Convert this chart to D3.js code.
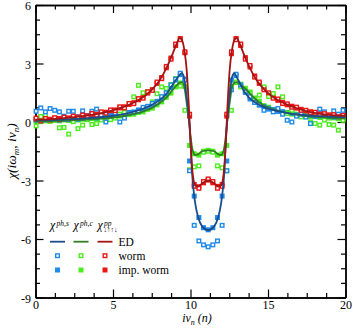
<!DOCTYPE html>
<html>
<head>
<meta charset="utf-8">
<script src="https://cdn.jsdelivr.net/npm/d3@7"></script>
<style>
body{margin:0;background:#fff}
text{font-family:"Liberation Serif","Times New Roman",serif}
</style>
</head>
<body>
<div id="chart"></div>
<script>
// frequency grid of the QMC points
var nGrid = [0.04,0.34,0.64,0.94,1.24,1.54,1.84,2.14,2.44,2.74,3.04,3.34,3.64,3.94,4.24,4.54,4.84,5.14,5.44,5.74,
  6.04,6.34,6.64,6.94,7.24,7.54,7.84,8.14,8.44,8.74,9.04,9.34,9.64,9.94,10.24,10.54,10.84,11.14,11.44,11.74,
  12.04,12.34,12.64,12.94,13.24,13.54,13.84,14.14,14.44,14.74,15.04,15.34,15.64,15.94,16.24,16.54,16.84,17.14,
  17.44,17.74,18.04,18.34,18.64,18.94,19.24,19.54,19.84];

// worm (open squares)
var wormBlue = [0.55,0.72,0.52,0.69,0.6,0.52,0.3,0.55,0.55,0.25,0.57,0.3,0.55,0.66,0.35,0.0,0.3,0.45,0.0,0.2,
  0.45,0.5,0.55,0.75,0.8,0.95,1.0,1.3,1.5,1.9,2.2,2.5,2.15,-2.5,-5.3,-6.1,-6.3,-6.4,-6.3,-6.1,
  -5.3,-2.5,1.65,2.45,1.9,1.55,1.3,1.0,0.9,0.6,0.7,0.52,0.69,0.4,0.09,0.0,0.3,0.4,
  0.25,-0.08,0.35,0.66,0.52,0.3,0.57,0.4,0.6];
var wormGreen = [-0.2,0.28,0.35,0.05,0.12,-0.3,-0.28,-0.62,0.02,-0.34,-0.16,0.14,-0.13,-0.08,0.1,0.22,0.12,0.2,0.4,0.5,
  0.95,1.29,1.88,1.5,1.55,1.03,1.45,1.8,1.72,1.92,2.23,1.84,0.6,-2.45,-2.3,-2.25,-1.55,-1.5,-1.55,-2.25,
  -2.35,-2.5,0.6,2.05,1.8,1.6,1.45,1.12,1.38,1.8,1.3,1.46,1.8,1.29,0.44,0.6,0.35,0.26,
  0.3,0.0,-0.08,-0.16,0.1,-0.13,-0.16,-0.42,0.09];
var wormRed = [0.2,0.05,0.18,0.1,0.22,0.12,0.25,0.17,0.3,0.22,0.36,0.28,0.44,0.35,0.52,0.45,0.62,0.58,0.78,0.72,
  0.95,0.94,1.2,1.22,1.55,1.62,2.05,2.22,2.85,3.22,4.0,4.22,3.6,0.4,-3.3,-3.4,-3.05,-2.92,-3.05,-3.4,
  -3.3,0.4,3.6,4.22,4.0,3.22,2.9,2.3,2.05,1.65,1.5,1.22,1.18,0.95,0.93,0.76,0.76,0.6,
  0.6,0.48,0.5,0.38,0.43,0.32,0.38,0.27,0.34];

// improved worm (filled squares)
var impBlue = [0.1,0.07,0.11,0.09,0.13,0.1,0.14,0.12,0.16,0.14,0.19,0.17,0.23,0.21,0.27,0.26,0.33,0.31,0.39,0.4,
  0.49,0.51,0.62,0.66,0.8,0.88,1.06,1.2,1.47,1.76,2.15,2.43,2.2,-2.0,-3.8,-4.9,-5.42,-5.53,-5.42,-4.9,
  -3.8,-2.0,2.15,2.38,1.88,1.52,1.18,1.05,0.86,0.79,0.66,0.63,0.54,0.53,0.45,0.45,0.38,0.38,
  0.33,0.34,0.29,0.31,0.27,0.29,0.25,0.27,0.24];
var impGreen = [0.05,0.02,0.06,0.04,0.08,0.06,0.1,0.08,0.12,0.1,0.14,0.12,0.17,0.16,0.21,0.2,0.26,0.24,0.31,0.31,
  0.38,0.4,0.49,0.52,0.65,0.71,0.88,1.03,1.27,1.48,1.8,2.0,1.82,-1.2,-1.63,-1.7,-1.5,-1.45,-1.5,-1.7,
  -1.63,-1.2,1.82,2.02,1.94,1.73,1.54,1.23,1.07,0.84,0.76,0.64,0.6,0.5,0.49,0.4,0.4,0.32,
  0.33,0.27,0.28,0.23,0.25,0.2,0.21,0.17,0.19];
var impRed = [0.14,0.12,0.16,0.14,0.17,0.18,0.21,0.21,0.25,0.27,0.31,0.33,0.39,0.4,0.47,0.5,0.58,0.62,0.72,0.78,
  0.9,0.99,1.14,1.27,1.48,1.66,1.98,2.28,2.78,3.28,3.92,4.28,3.55,0.3,-3.2,-3.32,-3.12,-2.98,-3.12,-3.3,
  -3.2,0.3,3.5,4.28,3.92,3.3,2.82,2.36,1.98,1.72,1.44,1.28,1.11,1.01,0.88,0.81,0.71,0.65,
  0.56,0.53,0.46,0.43,0.38,0.37,0.34,0.31,0.3];

// exact diagonalization curves
var edN = [0,1,2,3,4,5,5.5,6,6.5,7,7.5,8,8.5,8.8,9.1,9.3,9.45,9.6,9.75,9.9,10.0,10.1,10.2,10.3,10.5,10.75,11.14,
  11.53,11.78,11.98,12.08,12.18,12.28,12.38,12.53,12.68,12.83,12.98,13.18,13.48,13.78,14.28,14.78,15.28,15.78,
  16.28,16.78,17.28,18.28,19.28,20];
var edBlue = [0.08,0.1,0.13,0.17,0.23,0.32,0.38,0.46,0.57,0.7,0.88,1.12,1.5,1.85,2.2,2.42,2.5,2.2,1.3,0.2,-1.0,-2.6,-3.5,-4.15,-4.9,-5.35,-5.55,
  -5.35,-4.9,-4.15,-3.5,-2.6,-1.0,0.2,1.4,2.3,2.5,2.3,2.0,1.55,1.25,0.95,0.75,0.62,0.53,
  0.46,0.4,0.36,0.3,0.27,0.25];
var edGreen = [0.03,0.05,0.08,0.11,0.16,0.23,0.28,0.35,0.44,0.56,0.72,0.97,1.3,1.6,1.88,2.02,2.05,1.8,1.0,0.1,-0.7,-1.3,-1.6,-1.7,-1.65,-1.5,-1.45,
  -1.5,-1.65,-1.7,-1.6,-1.3,-0.7,0.1,1.0,1.8,2.02,2.05,1.95,1.75,1.5,1.1,0.82,0.66,0.55,
  0.46,0.38,0.32,0.25,0.2,0.18];
var edRed = [0.12,0.15,0.21,0.3,0.42,0.6,0.72,0.87,1.06,1.31,1.65,2.13,2.85,3.4,4.0,4.3,4.2,3.7,2.7,0.7,-1.0,-2.3,-3.0,-3.25,-3.3,-3.15,-3.0,
  -3.15,-3.3,-3.25,-3.0,-2.3,-1.0,0.7,2.7,3.7,4.2,4.3,4.0,3.4,2.85,2.13,1.65,1.31,1.06,
  0.88,0.73,0.6,0.43,0.34,0.31];

var xTicks = [0,5,10,15,20];
var yTicks = [-9,-6,-3,0,3,6];

var colBlue = '#1f8ae8', colGreen = '#4ced1c', colRed = '#ee1515';
var lineBlue = '#1b4d8c', lineGreen = '#2f7f22', lineRed = '#a31414';

var width = 353, height = 330;
var svg = d3.select('#chart').append('svg')
  .attr('width', width)
  .attr('height', height);

var x = d3.scaleLinear().domain([0,20]).range([35.5,345.5]);
var y = d3.scaleLinear().domain([-9,6]).range([297.5,5]);

var minorX = d3.range(0,20.01,1.25).filter(function(d){return xTicks.indexOf(d)<0});
var minorY = d3.range(-9,6.01,0.75).filter(function(d){return yTicks.indexOf(d)<0});

function axisStyle(g){
  g.attr('font-family', null).attr('font-size', null);
  g.selectAll('path.domain').attr('stroke','#000').attr('stroke-width',1.4);
  g.selectAll('line').attr('stroke','#000').attr('stroke-width',1.2);
  g.selectAll('text').attr('font-size',12).attr('fill','#000');
}

// bottom / top
svg.append('g').attr('transform','translate(0,297.5)')
  .call(d3.axisBottom(x).tickValues(xTicks).tickSizeInner(-8).tickSizeOuter(0).tickPadding(2.5))
  .call(axisStyle);
svg.append('g').attr('transform','translate(0,297.5)')
  .call(d3.axisBottom(x).tickValues(minorX).tickSizeInner(-4.5).tickSizeOuter(0).tickFormat(''))
  .call(axisStyle);
svg.append('g').attr('transform','translate(0,5)')
  .call(d3.axisTop(x).tickValues(xTicks).tickSizeInner(-8).tickSizeOuter(0).tickFormat(''))
  .call(axisStyle);
svg.append('g').attr('transform','translate(0,5)')
  .call(d3.axisTop(x).tickValues(minorX).tickSizeInner(-4.5).tickSizeOuter(0).tickFormat(''))
  .call(axisStyle);
// left / right
var yAxisG = svg.append('g').attr('transform','translate(35.5,0)')
  .call(d3.axisLeft(y).tickValues(yTicks).tickSizeInner(-8).tickSizeOuter(0).tickPadding(4.5)
    .tickFormat(function(d){return d<0 ? '-'+Math.abs(d) : d;}))
  .call(axisStyle);
yAxisG.selectAll('text').attr('dy','0.38em');
svg.append('g').attr('transform','translate(35.5,0)')
  .call(d3.axisLeft(y).tickValues(minorY).tickSizeInner(-4.5).tickSizeOuter(0).tickFormat(''))
  .call(axisStyle);
svg.append('g').attr('transform','translate(345.5,0)')
  .call(d3.axisRight(y).tickValues(yTicks).tickSizeInner(-8).tickSizeOuter(0).tickFormat(''))
  .call(axisStyle);
svg.append('g').attr('transform','translate(345.5,0)')
  .call(d3.axisRight(y).tickValues(minorY).tickSizeInner(-4.5).tickSizeOuter(0).tickFormat(''))
  .call(axisStyle);

var plot = svg.append('g');
var sq = 5;

function filled(vals, col){
  plot.append('g').selectAll('rect').data(vals).enter().append('rect')
    .attr('x', function(d,i){return x(nGrid[i]) - sq/2;})
    .attr('y', function(d){return y(d) - sq/2;})
    .attr('width', sq).attr('height', sq)
    .attr('fill', col);
}
function open(vals, col){
  plot.append('g').selectAll('rect').data(vals).enter().append('rect')
    .attr('x', function(d,i){return x(nGrid[i]) - (sq-1.4)/2;})
    .attr('y', function(d){return y(d) - (sq-1.4)/2;})
    .attr('width', sq-1.4).attr('height', sq-1.4)
    .attr('fill', '#fff')
    .attr('stroke', col).attr('stroke-width', 1.4);
}

filled(impGreen, colGreen);
filled(impBlue, colBlue);
filled(impRed, colRed);
open(wormGreen, colGreen);
open(wormBlue, colBlue);
open(wormRed, colRed);

var line = d3.line()
  .x(function(d,i){return x(edN[i]);})
  .y(function(d){return y(d);})
  .curve(d3.curveMonotoneX);

[[edGreen, lineGreen],[edBlue, lineBlue],[edRed, lineRed]].forEach(function(s){
  plot.append('path').datum(s[0])
    .attr('d', line)
    .attr('fill','none')
    .attr('stroke', s[1])
    .attr('stroke-width', 1.8);
});

// axis titles
var yl = svg.append('text')
  .attr('transform','translate(16,151) rotate(-90)')
  .attr('text-anchor','middle')
  .attr('font-size',13.5)
  .attr('font-style','italic');
yl.append('tspan').text('\u03c7(i\u03c9');
yl.append('tspan').attr('font-size',9).attr('dy',3).text('m');
yl.append('tspan').attr('dy',-3).text(', i\u03bd');
yl.append('tspan').attr('font-size',9).attr('dy',3).text('n');
yl.append('tspan').attr('dy',-3).text(')');

var xl = svg.append('text')
  .attr('x',197).attr('y',322)
  .attr('text-anchor','middle')
  .attr('font-size',12)
  .attr('font-style','italic');
xl.append('tspan').text('i\u03bd');
xl.append('tspan').attr('font-size',8).attr('dy',2.5).text('n');
xl.append('tspan').attr('dy',-2.5).text(' (n)');

// legend
var leg = svg.append('g');
var legCols = [
  {sup:'ph,s', sub:'', line:lineBlue, pt:colBlue, x:50},
  {sup:'ph,c', sub:'', line:lineGreen, pt:colGreen, x:73.5},
  {sup:'pp', sub:'\u2193\u2191\u2191\u2193', line:lineRed, pt:colRed, x:97.5}
];
legCols.forEach(function(c){
  var t = leg.append('text').attr('x', c.x).attr('y', 229).attr('font-size', 12).attr('font-style','italic');
  t.append('tspan').text('\u03c7');
  leg.append('text').attr('x', c.x+6.5).attr('y', 225.5).attr('font-size', 7.5).attr('font-style','italic').text(c.sup);
  if (c.sub) leg.append('text').attr('x', c.x+6).attr('y', 232).attr('font-size', 7).text(c.sub);
  leg.append('line').attr('x1', c.x).attr('x2', c.x+15).attr('y1', 241.7).attr('y2', 241.7)
    .attr('stroke', c.line).attr('stroke-width', 1.8);
  leg.append('rect').attr('x', c.x+7.5-(sq-1.4)/2).attr('y', 255.7-(sq-1.4)/2)
    .attr('width', sq-1.4).attr('height', sq-1.4).attr('fill','#fff').attr('stroke', c.pt).attr('stroke-width',1.4);
  leg.append('rect').attr('x', c.x+7.5-sq/2).attr('y', 270-sq/2)
    .attr('width', sq).attr('height', sq).attr('fill', c.pt);
});
var legLabels = ['ED','worm','imp. worm'];
leg.selectAll('text.lab').data(legLabels).enter().append('text')
  .attr('class','lab')
  .attr('x', 118.5)
  .attr('y', function(d,i){return 245.5 + i*14.2;})
  .attr('font-size', 11.5)
  .text(function(d){return d;});
</script>
</body>
</html>
